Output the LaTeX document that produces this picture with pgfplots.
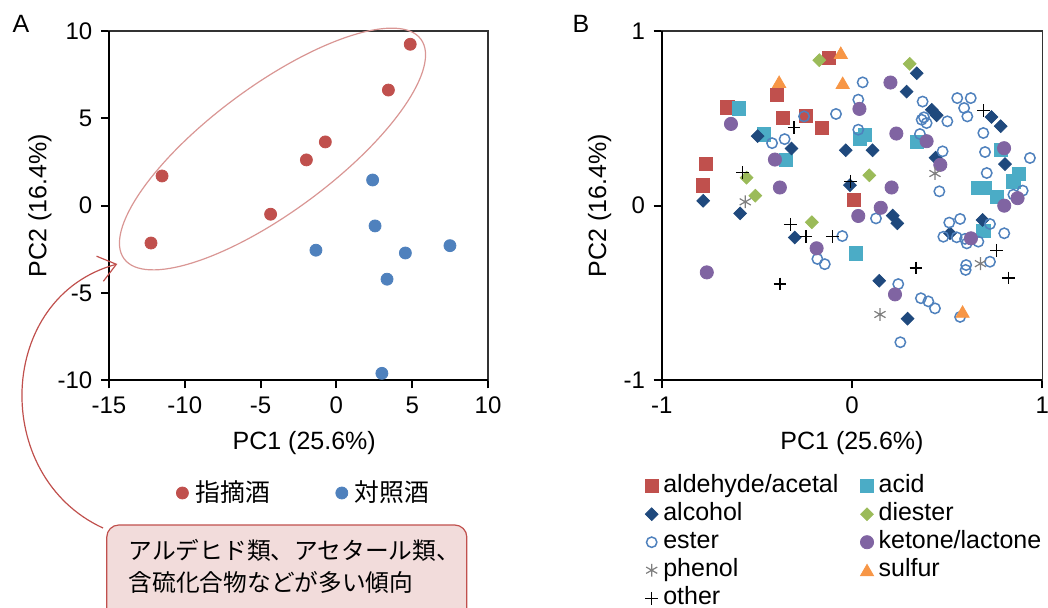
\documentclass[border=0pt]{standalone}
\usepackage{fontspec}
\setmainfont{Liberation Sans}
\newfontfamily\jp{Noto Sans CJK JP}
\usepackage{pgfplots}
\pgfplotsset{compat=1.18}
\usetikzlibrary{arrows.meta}
\definecolor{cRed}{HTML}{C0504D}
\definecolor{cBlue}{HTML}{4F81BD}
\definecolor{cTeal}{HTML}{4BACC6}
\definecolor{cNavy}{HTML}{1F497D}
\definecolor{cGreen}{HTML}{9BBB59}
\definecolor{cPurple}{HTML}{8064A2}
\definecolor{cGray}{HTML}{7F7F7F}
\definecolor{cOrange}{HTML}{F79646}
\definecolor{cEll}{HTML}{D99694}
\definecolor{cBox}{HTML}{F2DCDB}
\pgfplotsset{
  pcastyle/.style={
    scale only axis, clip=false,
    axis line style={draw=black!80, line width=0.6pt},
    tick align=outside, tick pos=left, major tick length=4pt,
    tick style={black, line width=1pt},
    /pgf/number format/assume math mode=true,
    ticklabel style={font=\fontsize{12}{14}\selectfont},
    label style={font=\fontsize{12.5}{15}\selectfont},
    legend cell align=left,
    legend image code/.code={\draw[mark repeat=2,mark phase=2,##1] plot coordinates {(0pt,0pt) (4pt,0pt) (8pt,0pt)};},
  }
}
\begin{document}
\fontsize{12.5}{15}\selectfont
\begin{tikzpicture}
\useasboundingbox (0,0) rectangle (524pt,-303.5pt);
% ---------------- Panel A ----------------
\begin{axis}[pcastyle,
  at={(54.5pt,-190.15pt)}, anchor=south west,
  width=189.5pt, height=174.65pt,
  xmin=-15, xmax=10, ymin=-10, ymax=10,
  xtick={-15,-10,-5,0,5,10}, ytick={-10,-5,0,5,10},
  xlabel={PC1 (25.6\%)}, ylabel={PC2 (16.4\%)},
  xlabel style={at={(axis description cs:0.515,-0.1795)}, anchor=center},
  ylabel style={at={(axis description cs:-0.182,0.5)}, anchor=center},
  legend columns=2,
  legend style={at={(axis description cs:0.1768,-0.3226)}, anchor=west,
    draw=none, fill=none, inner sep=0pt,
    font={\jp\fontsize{12.4}{15}\selectfont},
    nodes={inner sep=1pt},
    /tikz/every odd column/.append style={column sep=2.5pt},
    /tikz/every even column/.append style={column sep=32pt}},
]
\addplot[only marks, mark=*, mark size=3pt, color=cRed] coordinates {
 (4.87,9.24) (3.43,6.62) (-0.73,3.65) (-1.98,2.62) (-11.5,1.7) (-4.34,-0.49) (-12.23,-2.14)};
\addlegendentry{指摘酒}
\addplot[only marks, mark=*, mark size=3pt, color=cBlue] coordinates {
 (2.39,1.47) (2.55,-1.16) (-1.35,-2.55) (7.49,-2.29) (4.55,-2.71) (3.34,-4.21) (3.0,-9.6)};
\addlegendentry{対照酒}
\draw[black, line width=1pt] (rel axis cs:0,1) -- (rel axis cs:0,0) -- (rel axis cs:1,0);
\end{axis}
% ---------------- Panel B ----------------
\begin{axis}[pcastyle,
  at={(330.85pt,-190.15pt)}, anchor=south west,
  width=190.3pt, height=174.65pt,
  xmin=-1, xmax=1, ymin=-1, ymax=1,
  xtick={-1,0,1}, ytick={-1,0,1},
  xlabel={PC1 (25.6\%)}, ylabel={PC2 (16.4\%)},
  xlabel style={at={(axis description cs:0.5,-0.1795)}, anchor=center},
  ylabel style={at={(axis description cs:-0.163,0.5)}, anchor=center},
  legend columns=2,
  legend style={at={(axis description cs:-0.0447,-0.2634)}, anchor=north west,
    draw=none, fill=none, inner sep=0pt,
    font=\fontsize{12.5}{15}\selectfont,
    nodes={inner sep=1pt, text height=9pt, text depth=2.5pt},
    row sep=0.5pt,
    /tikz/every odd column/.append style={column sep=1.5pt},
    /tikz/every even column/.append style={column sep=10pt}},
]
\addplot[only marks, mark=square*, mark size=3.3pt, color=cRed] coordinates {
 (-0.123,0.847) (-0.396,0.634) (-0.655,0.563) (-0.364,0.504) (-0.243,0.515)
 (-0.158,0.443) (-0.769,0.239) (-0.785,0.116) (0.011,0.034)};
\addlegendentry{aldehyde/acetal}
\addplot[only marks, mark=square*, mark size=3.3pt, color=cTeal] coordinates {
 (-0.594,0.557) (-0.461,0.408) (-0.349,0.261) (0.042,0.38) (0.068,0.405)
 (0.34,0.366) (0.781,0.32) (0.664,0.1) (0.699,0.1) (0.763,0.05)
 (0.848,0.139) (0.879,0.183) (0.69,-0.144) (0.021,-0.273)};
\addlegendentry{acid}
\addplot[only marks, mark=square*, mark size=2.25pt, mark options={rotate=45}, color=cNavy] coordinates {
 (0.34,0.758) (0.287,0.653) (0.419,0.549) (0.445,0.517) (0.733,0.508)
 (0.781,0.455) (-0.496,0.398) (-0.318,0.327) (-0.033,0.317) (0.108,0.317)
 (0.439,0.275) (0.804,0.238) (-0.011,0.117) (-0.782,0.028) (-0.588,-0.044)
 (0.214,-0.057) (0.238,-0.101) (-0.301,-0.182) (0.515,-0.158) (0.686,-0.082)
 (0.143,-0.43) (0.292,-0.647)};
\addlegendentry{alcohol}
\addplot[only marks, mark=square*, mark size=2.25pt, mark options={rotate=45}, color=cGreen] coordinates {
 (-0.172,0.833) (0.303,0.812) (0.091,0.174) (-0.554,0.16) (-0.508,0.057) (-0.211,-0.095)};
\addlegendentry{diester}
\addplot[only marks, mark=o, mark size=2.6pt, color=cBlue, mark options={line width=0.75pt}] coordinates {
 (-0.252,0.511) (-0.084,0.525) (-0.354,0.381) (-0.42,0.358) (0.056,0.706)
 (0.033,0.607) (0.033,0.435) (0.371,0.596) (0.378,0.506) (0.392,0.473)
 (0.366,0.492) (0.501,0.483) (0.357,0.41) (0.476,0.311) (0.459,0.082)
 (0.553,0.616) (0.624,0.616) (0.589,0.559) (0.606,0.511) (0.69,0.416)
 (0.699,0.307) (0.708,0.187) (0.935,0.273) (0.848,0.063) (0.897,0.086)
 (0.126,-0.073) (0.511,-0.097) (0.568,-0.076) (0.48,-0.178) (0.55,-0.181)
 (0.594,-0.19) (0.603,-0.216) (0.664,-0.206) (0.725,-0.105) (0.80,-0.158)
 (0.725,-0.321) (0.6,-0.34) (0.597,-0.368) (0.243,-0.449) (0.362,-0.53)
 (0.401,-0.548) (0.436,-0.588) (0.568,-0.637) (0.254,-0.782) (-0.051,-0.174)
 (-0.182,-0.305) (-0.143,-0.335)};
\addlegendentry{ester}
\addplot[only marks, mark=*, mark size=3.3pt, color=cPurple] coordinates {
 (0.202,0.705) (0.039,0.554) (-0.636,0.468) (0.233,0.413) (0.392,0.369)
 (-0.405,0.264) (0.799,0.329) (0.464,0.234) (-0.379,0.104) (0.208,0.104)
 (0.87,0.043) (0.80,0.0) (0.151,-0.012) (0.033,-0.059) (-0.186,-0.244)
 (0.625,-0.187) (-0.763,-0.382) (0.226,-0.508)};
\addlegendentry{ketone/lactone}
\addplot[only marks, mark=asterisk, mark size=3.2pt, color=cGray, mark options={line width=0.6pt}] coordinates {
 (-0.561,0.022) (0.436,0.184) (0.675,-0.332) (0.147,-0.623)};
\addlegendentry{phenol}
\addplot[only marks, mark=triangle*, mark size=3.8pt, color=cOrange, mark options={yshift=-0.9pt}] coordinates {
 (-0.059,0.875) (-0.383,0.709) (-0.049,0.703) (0.581,-0.607)};
\addlegendentry{sulfur}
\addplot[only marks, mark=+, mark size=3.2pt, color=black, mark options={line width=0.65pt}] coordinates {
 (-0.305,0.448) (-0.574,0.188) (-0.008,0.14) (0.692,0.543) (-0.325,-0.107)
 (-0.242,-0.176) (-0.104,-0.177) (-0.378,-0.449) (0.336,-0.357) (0.76,-0.256)
 (0.821,-0.414)};
\addlegendentry{other}
\draw[black, line width=1pt] (rel axis cs:0,1) -- (rel axis cs:0,0) -- (rel axis cs:1,0);
\end{axis}
% ---------------- annotations ----------------
\node[font=\fontsize{12.5}{15}\selectfont] at (10.5pt,-11.75pt) {A};
\node[font=\fontsize{12.5}{15}\selectfont] at (290.5pt,-11.75pt) {B};
\draw[cEll, line width=0.6pt, rotate around={36.5:(136.25pt,-74.5pt)}]
  (136.25pt,-74.5pt) ellipse [x radius=92.3pt, y radius=31.4pt];
\draw[cRed, line width=0.6pt, -{Straight Barb[length=8.5pt,width=13pt,line width=0.6pt]}]
  (51.5pt,-264pt) .. controls (-5pt,-238pt) and (-2pt,-148.5pt) .. (58.65pt,-132pt);
\draw[cRed, fill=cBox, line width=0.6pt, rounded corners=6pt]
  (53.4pt,-262.5pt) rectangle (233.4pt,-315pt);
\node[anchor=west, inner sep=0pt, font={\jp\fontsize{11.85}{14}\selectfont}] at (64.2pt,-275pt) {アルデヒド類、アセタール類、};
\node[anchor=west, inner sep=0pt, font={\jp\fontsize{11.85}{14}\selectfont}] at (64.2pt,-291.3pt) {含硫化合物などが多い傾向};
\end{tikzpicture}
\end{document}
